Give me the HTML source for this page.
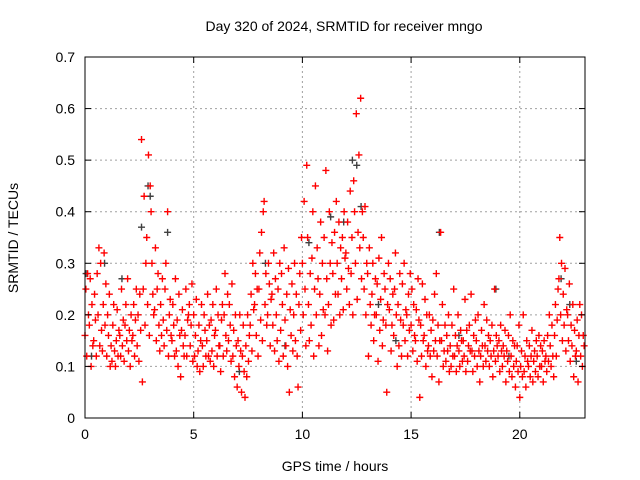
<!DOCTYPE html>
<html><head><meta charset="utf-8"><style>
body{margin:0;background:#fff;}
svg{display:block;font-family:"Liberation Sans",sans-serif;}
</style></head><body>
<svg id="chart" width="640" height="480" viewBox="0 0 640 480">
<rect width="640" height="480" fill="#fff"/>
<text x="344" y="31" text-anchor="middle" font-size="14">Day 320 of 2024, SRMTID for receiver mngo</text>
<text x="335" y="471" text-anchor="middle" font-size="14">GPS time / hours</text>
<text transform="translate(18,238) rotate(-90)" text-anchor="middle" font-size="14">SRMTID / TECUs</text>
<g id="grid"></g>
<g id="gray"></g>
<g id="red"></g>
<rect x="85" y="57" width="500" height="361" fill="none" stroke="#000" stroke-width="1"/>
<g id="ticks"></g>
</svg>
<script>
const xTicks=[0,5,10,15,20];
const yTicks=[0,0.1,0.2,0.3,0.4,0.5,0.6,0.7];
const yTickLabels=["0","0.1","0.2","0.3","0.4","0.5","0.6","0.7"];
const binStarts=[0,0.2,0.4,0.6,0.8,1.0,1.2,1.4,1.6,1.8,2.0,2.2,2.4,2.6,2.8,3.0,3.2,3.4,3.6,3.8,4.0,4.2,4.4,4.6,4.8,5.0,5.2,5.4,5.6,5.8,6.0,6.2,6.4,6.6,6.8,7.0,7.2,7.4,7.6,7.8,8.0,8.2,8.4,8.6,8.8,9.0,9.2,9.4,9.6,9.8,10.0,10.2,10.4,10.6,10.8,11.0,11.2,11.4,11.6,11.8,12.0,12.2,12.4,12.6,12.8,13.0,13.2,13.4,13.6,13.8,14.0,14.2,14.4,14.6,14.8,15.0,15.2,15.4,15.6,15.8,16.0,16.2,16.4,16.6,16.8,17.0,17.2,17.4,17.6,17.8,18.0,18.2,18.4,18.6,18.8,19.0,19.2,19.4,19.6,19.8,20.0,20.2,20.4,20.6,20.8,21.0,21.2,21.4,21.6,21.8,22.0,22.2,22.4,22.6,22.8];
const redValues=[
[.16,.25,.12,.28,.2],[.18,.27,.1,.22,.14],[.15,.24,.19,.12,.28],[.2,.33,.14,.3,.17],[.13,.22,.32,.18,.26],
[.12,.2,.16,.24,.1],[.14,.11,.18,.22,.13],[.1,.15,.21,.12,.17],[.16,.12,.25,.14,.19],[.11,.18,.22,.15,.27],
[.13,.17,.1,.2,.15],[.16,.22,.12,.19,.25],[.14,.2,.11,.24,.17],[.54,.07,.25,.43,.18],[.3,.35,.22,.51,.16],
[.45,.4,.3,.24,.2],[.21,.33,.15,.25,.28],[.18,.13,.22,.16,.27],[.19,.14,.25,.3,.17],[.4,.12,.2,.23,.16],
[.15,.22,.18,.12,.27],[.13,.19,.1,.24,.16],[.08,.17,.21,.14,.12],[.16,.25,.12,.19,.2],[.22,.14,.18,.26,.11],
[.2,.12,.16,.23,.1],[.13,.18,.09,.15,.22],[.14,.1,.2,.17,.12],[.15,.24,.12,.18,.11],[.19,.13,.22,.1,.16],
[.17,.25,.12,.2,.14],[.14,.09,.19,.22,.12],[.2,.28,.16,.13,.24],[.15,.22,.18,.11,.26],[.12,.17,.08,.2,.14],
[.06,.15,.1,.2,.13],[.05,.12,.18,.09,.04],[.14,.08,.2,.11,.16],[.18,.24,.13,.3,.21],[.22,.28,.16,.25,.12],
[.25,.32,.19,.36,.15],[.4,.42,.22,.28,.18],[.2,.3,.26,.14,.23],[.24,.18,.32,.13,.27],[.2,.15,.25,.11,.3],
[.17,.28,.22,.12,.33],[.19,.14,.24,.1,.29],[.05,.21,.16,.26,.13],[.2,.3,.15,.24,.12],[.06,.22,.28,.17,.35],
[.3,.2,.42,.25,.14],[.49,.35,.22,.15,.28],[.18,.31,.4,.12,.25],[.45,.2,.33,.27,.14],[.24,.38,.16,.3,.21],
[.35,.2,.48,.27,.13],[.22,.4,.3,.18,.34],[.28,.19,.36,.24,.42],[.3,.24,.38,.2,.33],[.27,.35,.21,.4,.31],
[.32,.25,.38,.29,.22],[.44,.28,.35,.2,.46],[.4,.3,.59,.23,.36],[.51,.33,.62,.27,.4],[.35,.25,.41,.2,.3],
[.28,.12,.33,.22,.18],[.24,.3,.15,.2,.27],[.2,.26,.11,.31,.17],[.23,.35,.14,.19,.28],[.25,.18,.05,.22,.3],
[.21,.27,.13,.18,.24],[.16,.25,.32,.2,.1],[.22,.14,.28,.19,.12],[.26,.18,.3,.15,.21],[.2,.12,.24,.17,.28],
[.18,.25,.13,.22,.16],[.15,.21,.11,.27,.19],[.04,.18,.12,.26,.15],[.16,.23,.1,.2,.13],[.14,.2,.12,.17,.08],
[.19,.13,.24,.15,.28],[.12,.18,.07,.15,.36],[.15,.22,.1,.13,.18],[.11,.16,.13,.2,.09],[.14,.1,.18,.12,.25],
[.12,.16,.09,.14,.2],[.13,.1,.17,.15,.11],[.15,.12,.23,.09,.17],[.11,.14,.18,.13,.24],[.13,.09,.16,.12,.19],
[.15,.1,.2,.13,.07],[.12,.17,.14,.1,.22],[.14,.11,.19,.13,.16],[.1,.15,.12,.18,.08],[.13,.25,.11,.16,.14],
[.12,.15,.09,.18,.13],[.1,.14,.12,.17,.07],[.13,.11,.16,.09,.2],[.12,.08,.15,.1,.14],[.06,.11,.14,.09,.18],
[.04,.1,.13,.08,.2],[.09,.12,.06,.15,.11],[.1,.14,.08,.12,.17],[.07,.11,.13,.09,.15],[.12,.08,.16,.1,.14],
[.1,.13,.07,.15,.11],[.12,.09,.16,.11,.2],[.14,.1,.18,.12,.08],[.16,.22,.12,.19,.25],[.27,.35,.2,.3,.15],
[.24,.18,.29,.13,.21],[.2,.15,.26,.11,.18],[.14,.22,.08,.17,.12],[.13,.19,.07,.16,.22],[.12,.2,.1,.16,.14]];
const grayTimes=[0.05,0.3,0.9,1.7,2.6,2.9,3.0,3.8,7.1,8.3,9.2,10.3,11.3,11.9,12.3,12.5,12.7,13.5,14.3,16.3,17.2,18.9,19.5,21.9,22.3,22.6];
const grayValues=[0.28,0.12,0.3,0.27,0.37,0.45,0.43,0.36,0.09,0.3,0.14,0.34,0.39,0.38,0.5,0.49,0.41,0.22,0.15,0.36,0.16,0.25,0.12,0.27,0.22,0.11];

const X0=85,X1=585,Y0=418,Y1=57,XMAX=23,YMAX=0.7;
const xs=v=>X0+(X1-X0)*v/XMAX;
const ys=v=>Y0-(Y0-Y1)*v/YMAX;
const NS='http://www.w3.org/2000/svg';
function mk(tag,attrs,parent){const e=document.createElementNS(NS,tag);for(const k in attrs)e.setAttribute(k,attrs[k]);parent.appendChild(e);return e;}
const grid=document.getElementById('grid'),ticks=document.getElementById('ticks');
xTicks.forEach(t=>{
  const x=xs(t);
  if(t>0){const g=mk('line',{x1:x,x2:x,y1:Y0,y2:Y1,stroke:'#a0a0a0','stroke-dasharray':'2,3'},grid);
  
  }
  mk('line',{x1:x,x2:x,y1:Y0,y2:Y0-6,stroke:'#000'},ticks);
  mk('line',{x1:x,x2:x,y1:Y1,y2:Y1+6,stroke:'#000'},ticks);
  const l=mk('text',{x:x,y:Y0+21,'text-anchor':'middle','font-size':14},ticks);
  l.textContent=t;
  
  
});
yTicks.forEach((t,i)=>{
  const y=ys(t);
  if(i>0&&i<yTicks.length-1){const g=mk('line',{x1:X0,x2:X1,y1:y,y2:y,stroke:'#a0a0a0','stroke-dasharray':'2,3'},grid);
  
  }
  mk('line',{x1:X0,x2:X0+6,y1:y,y2:y,stroke:'#000'},ticks);
  mk('line',{x1:X1,x2:X1-6,y1:y,y2:y,stroke:'#000'},ticks);
  const l=mk('text',{x:X0-10,y:y+5,'text-anchor':'end','font-size':14},ticks);
  l.textContent=yTickLabels[i];
  
  
});
function plus(x,y,col,parent){
  const p=mk('path',{d:`M${x-3.5},${y}h7M${x},${y-3.5}v7`,stroke:col,'stroke-width':1.4,fill:'none'},parent);
  return p;
}
const gg=document.getElementById('gray');
grayTimes.forEach((t,i)=>{
  const p=plus(xs(t),ys(grayValues[i]),'#404040',gg);
  
  
});
const rg=document.getElementById('red');
binStarts.forEach((t,i)=>{
  redValues[i].forEach((v,k)=>{
    const p=plus(xs(t+k*0.04),ys(v),'#ff0000',rg);
    
    
  });
});
</script>
</body></html>
